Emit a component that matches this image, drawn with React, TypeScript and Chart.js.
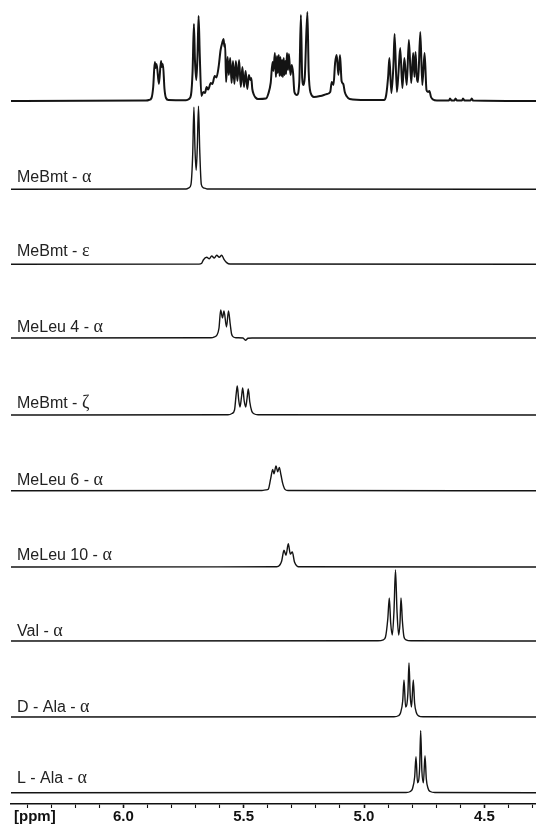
import { useEffect, useRef } from "react";
import { Chart, registerables } from "chart.js";

Chart.register(...registerables);

// ---- chemical shift window (ppm) and axis ticks ----
const PPM_LEFT = 6.4666;
const PPM_RIGHT = 4.2854;
const majorTicks = [6.0, 5.5, 5.0, 4.5];
const minorStep = 0.1;

// ---- full 1H spectrum: shift (ppm) / intensity ----
const fullPpm = [
  6.4666, 5.9057, 5.8933, 5.8829, 5.8758, 5.8692, 5.8654, 5.8617, 5.8521, 5.8434,
  5.8397, 5.8355, 5.8289, 5.8226, 5.8123, 5.7395, 5.7271, 5.7188, 5.7121, 5.7067,
  5.7022, 5.6968, 5.6918, 5.6872, 5.6822, 5.6756, 5.6677, 5.6606, 5.654, 5.6473,
  5.6365, 5.6299, 5.6203, 5.6132, 5.6041, 5.5958, 5.5892, 5.5837, 5.5796, 5.5771,
  5.5729, 5.5667, 5.5617, 5.5559, 5.5501, 5.5443, 5.5385, 5.5322, 5.526, 5.5189,
  5.5119, 5.5052, 5.4986, 5.4919, 5.4849, 5.4782, 5.4724, 5.4683, 5.4641, 5.457,
  5.4508, 5.4404, 5.4072, 5.3972, 5.3877, 5.3798, 5.3764, 5.3702, 5.366, 5.3615,
  5.3582, 5.354, 5.3507, 5.3474, 5.3436, 5.3403, 5.337, 5.3336, 5.3303, 5.327,
  5.3237, 5.3199, 5.3158, 5.312, 5.3054, 5.3, 5.2946, 5.2892, 5.2784, 5.2688,
  5.2622, 5.2568, 5.2514, 5.246, 5.2352, 5.2298, 5.2215, 5.2078, 5.1812, 5.1538,
  5.1405, 5.1338, 5.1267, 5.1201, 5.1135, 5.1064, 5.0997, 5.0931, 5.086, 5.0798,
  5.0727, 5.0594, 4.9917, 4.9169, 4.9078, 4.8995, 4.8945, 4.8862, 4.8779, 4.8729,
  4.8633, 4.8563, 4.8496, 4.8405, 4.8322, 4.8226, 4.8135, 4.8039, 4.7956, 4.7902,
  4.7861, 4.7798, 4.7753, 4.7661, 4.7578, 4.7483, 4.7404, 4.7341, 4.7283, 4.7217,
  4.7134, 4.6967, 4.6469, 4.6427, 4.6365, 4.624, 4.6199, 4.6137, 4.5929, 4.5887,
  4.5825, 4.5576, 4.5526, 4.5472, 4.2854,
];
const fullInt = [
  0, 0.5, 1, 3, 14, 39, 33, 37, 17, 40,
  34, 37, 12, 3, 1, 0.8, 2, 6, 30, 77,
  40, 21, 45, 85, 45, 5, 9, 8, 14, 11.5,
  18, 17, 25, 23.5, 34, 51, 58, 62, 54, 57,
  19, 44, 26, 43, 18, 40, 17, 40, 20, 41,
  14, 34, 14, 30, 12, 26, 21, 23, 12, 6,
  3.5, 2, 2.5, 7.5, 18, 39, 30, 48, 24, 45,
  28, 46, 25, 44, 25, 41, 24, 43, 26, 40,
  27, 48, 31, 47, 26, 36, 28, 9, 6, 19,
  86, 23, 16, 24, 89, 29, 8, 4, 5, 7,
  9, 19, 16, 38, 46, 26, 46, 20, 17, 9,
  5, 2, 1, 1, 6, 25, 43, 8, 35, 67,
  9, 30, 53, 13, 43, 16, 61, 18, 48, 24,
  49, 22, 19, 69, 16, 48, 11, 9, 10, 4,
  1.5, 0.5, 0.5, 2.5, 0.5, 0.5, 2.5, 0.5, 0.5, 2.5,
  0.5, 0.5, 2.5, 0.5, 0,
];

// ---- selective 1D traces: shift (ppm) / intensity ----
const mebmtAlphaPpm = [6.4666, 5.7395, 5.7271, 5.7188, 5.7117, 5.7067, 5.7022, 5.6972, 5.6926, 5.6876, 5.6826, 5.676, 5.6668, 5.6523, 4.2854];
const mebmtAlphaInt = [0, 0.3, 1.5, 5, 35, 82, 40, 19, 42, 83, 40, 5, 1.5, 0.3, 0];

const mebmtEpsPpm = [6.4666, 5.6855, 5.6743, 5.6677, 5.6535, 5.6427, 5.6328, 5.622, 5.612, 5.6012, 5.5912, 5.5817, 5.5705, 5.5567, 4.2854];
const mebmtEpsInt = [0, 0.2, 1, 4.3, 7, 5.5, 8.3, 6.3, 9, 7, 9, 5, 1.7, 0.3, 0];

const meleu4Ppm = [6.4666, 5.6357, 5.6211, 5.6108, 5.6024, 5.5954, 5.5879, 5.5817, 5.5713, 5.563, 5.5559, 5.5501, 5.5422, 5.5318, 5.5027, 5.4924, 5.482, 5.4653, 4.2854];
const meleu4Int = [0, 0.2, 1.2, 3, 10, 28, 20, 27, 11, 27, 14, 4, 1, 0.3, 0, -2.2, -0.3, 0, 0];

const mebmtZetaPpm = [6.4666, 5.5651, 5.5484, 5.538, 5.5306, 5.5264, 5.521, 5.5152, 5.509, 5.504, 5.4977, 5.4915, 5.4857, 5.4807, 5.4745, 5.4666, 5.457, 5.4404, 4.2854];
const mebmtZetaInt = [0, 0.2, 1.5, 5, 22, 29, 16, 8, 18, 27, 14, 8, 17, 26, 13, 4, 1.2, 0.2, 0];

const meleu6Ppm = [6.4666, 5.4238, 5.4072, 5.3976, 5.3877, 5.3793, 5.3739, 5.3656, 5.3586, 5.3519, 5.3449, 5.3378, 5.3282, 5.3158, 4.2854];
const meleu6Int = [0, 0.2, 0.8, 1.5, 12, 21.3, 17, 24.7, 19, 23.3, 15.7, 7.3, 1.3, 0.2, 0];

const meleu10Ppm = [6.4666, 5.3739, 5.3561, 5.342, 5.3324, 5.3241, 5.3145, 5.3062, 5.2979, 5.2888, 5.2771, 5.2659, 4.2854];
const meleu10Int = [0, 0.2, 0.7, 6, 16.7, 11.7, 23.3, 13, 15, 5, 0.7, 0.2, 0];

const valAlphaPpm = [6.4666, 4.9419, 4.9198, 4.9107, 4.9012, 4.8949, 4.8891, 4.8825, 4.8754, 4.8692, 4.8629, 4.8559, 4.8505, 4.8463, 4.8405, 4.8338, 4.8255, 4.8048, 4.2854];
const valAlphaInt = [0, 0.2, 1.2, 4, 22, 43, 18, 6, 30, 71, 30, 6, 18, 43, 20, 4, 1.2, 0.2, 0];

const dAlaPpm = [6.4666, 4.8754, 4.8575, 4.8484, 4.8392, 4.8338, 4.8272, 4.8176, 4.8131, 4.8081, 4.8027, 4.7952, 4.7898, 4.7819, 4.7736, 4.7549, 4.2854];
const dAlaInt = [0, 0.2, 1.2, 4, 16, 37, 10, 24, 54, 22, 10, 37, 14, 4, 1.2, 0.2, 0];

const lAlaPpm = [6.4666, 4.8255, 4.8077, 4.7985, 4.7894, 4.784, 4.7777, 4.769, 4.7645, 4.7595, 4.7532, 4.7466, 4.7412, 4.7333, 4.7246, 4.7051, 4.2854];
const lAlaInt = [0, 0.2, 1.2, 4, 16, 36, 10, 24, 62, 22, 10, 37, 14, 4, 1.2, 0.2, 0];

// trace names (Latin part + Greek proton label)
const traceNames = ["MeBmt - ", "MeBmt - ", "MeLeu 4 - ", "MeBmt - ", "MeLeu 6 - ", "MeLeu 10 - ", "Val - ", "D - Ala - ", "L - Ala - "];
const traceGreek = ["α", "ε", "α", "ζ", "α", "α", "α", "α", "α"];

// ---- layout (pixels) ----
const W = 536;
const H = 826;
const PLOT_BOTTOM = 804; // axis line
const baselinePx = [101, 189.3, 264.3, 338, 415, 490.7, 567, 641, 717, 792.7];
const labelGap = [7.5, 8.5, 6.5, 7, 5.5, 7, 5.5, 5, 10];

const series = [
  { ppm: fullPpm, int: fullInt, width: 2 },
  { ppm: mebmtAlphaPpm, int: mebmtAlphaInt, width: 1.4 },
  { ppm: mebmtEpsPpm, int: mebmtEpsInt, width: 1.4 },
  { ppm: meleu4Ppm, int: meleu4Int, width: 1.4 },
  { ppm: mebmtZetaPpm, int: mebmtZetaInt, width: 1.4 },
  { ppm: meleu6Ppm, int: meleu6Int, width: 1.4 },
  { ppm: meleu10Ppm, int: meleu10Int, width: 1.4 },
  { ppm: valAlphaPpm, int: valAlphaInt, width: 1.4 },
  { ppm: dAlaPpm, int: dAlaInt, width: 1.4 },
  { ppm: lAlaPpm, int: lAlaInt, width: 1.4 },
];

const offsets = baselinePx.map((b) => PLOT_BOTTOM - b);

const isMajor = (v: number) => majorTicks.some((m) => Math.abs(m - v) < 1e-6);

const SANS = '"Liberation Sans", Arial, Helvetica, sans-serif';
const SERIF = '"Liberation Serif", "Times New Roman", serif';

const annotations = {
  id: "traceAnnotations",
  afterDatasetsDraw(chart: any) {
    const { ctx } = chart;
    const y = chart.scales.y;
    ctx.save();
    ctx.fillStyle = "#222";
    ctx.textAlign = "left";
    ctx.textBaseline = "alphabetic";
    traceNames.forEach((name, i) => {
      const ty = y.getPixelForValue(offsets[i + 1]) - labelGap[i];
      ctx.font = `16px ${SANS}`;
      ctx.fillText(name, 17, ty);
      const w = ctx.measureText(name).width;
      ctx.font = `18px ${SERIF}`;
      ctx.fillText(traceGreek[i], 17 + w, ty);
    });
    ctx.fillStyle = "#111";
    ctx.font = `bold 15px ${SANS}`;
    ctx.textBaseline = "middle";
    ctx.fillText("[ppm]", 14, chart.chartArea.bottom + 13);
    ctx.restore();
  },
};

export default function App() {
  const ref = useRef<HTMLCanvasElement>(null);

  useEffect(() => {
    document.body.style.margin = "0";
    const canvas = ref.current;
    if (!canvas) return;

    const datasets = series.map((s, i) => ({
      data: s.ppm.map((p, k) => ({ x: p, y: offsets[i] + s.int[k] })),
      borderColor: "#141414",
      borderWidth: s.width,
      pointRadius: 0,
      cubicInterpolationMode: "monotone",
      fill: false,
    }));

    const chart = new Chart(canvas, {
      type: "line",
      data: { datasets },
      options: {
        animation: false,
        responsive: false,
        parsing: false,
        layout: { padding: { left: 11, right: 0, top: 0, bottom: 0 } },
        plugins: { legend: { display: false }, tooltip: { enabled: false } },
        scales: {
          x: {
            type: "linear",
            reverse: true,
            min: PPM_RIGHT,
            max: PPM_LEFT,
            position: "bottom",
            border: { display: true, color: "#111", width: 1.6 },
            grid: {
              drawOnChartArea: false,
              drawTicks: true,
              tickLength: 4,
              tickColor: "#111",
              tickWidth: (c: any) => (c.tick && isMajor(c.tick.value) ? 1.6 : 1.1),
            },
            afterBuildTicks: (scale: any) => {
              const ticks = [];
              const first = Math.ceil(PPM_RIGHT / minorStep);
              const last = Math.floor(PPM_LEFT / minorStep);
              for (let k = first; k <= last; k++) ticks.push({ value: Math.round(k) / 10 });
              scale.ticks = ticks;
            },
            ticks: {
              autoSkip: false,
              maxRotation: 0,
              minRotation: 0,
              padding: 0,
              color: "#111",
              font: { family: SANS, size: 15, weight: "bold" },
              callback: (v: any) => (isMajor(Number(v)) ? Number(v).toFixed(1) : ""),
            },
          },
          y: {
            type: "linear",
            display: false,
            min: 0,
            max: PLOT_BOTTOM,
          },
        },
      },
      plugins: [annotations],
    } as any);

    return () => chart.destroy();
  }, []);

  return (
    <div style={{ width: W, height: H, background: "#fff" }}>
      <canvas ref={ref} width={W} height={H} style={{ display: "block" }} />
    </div>
  );
}
